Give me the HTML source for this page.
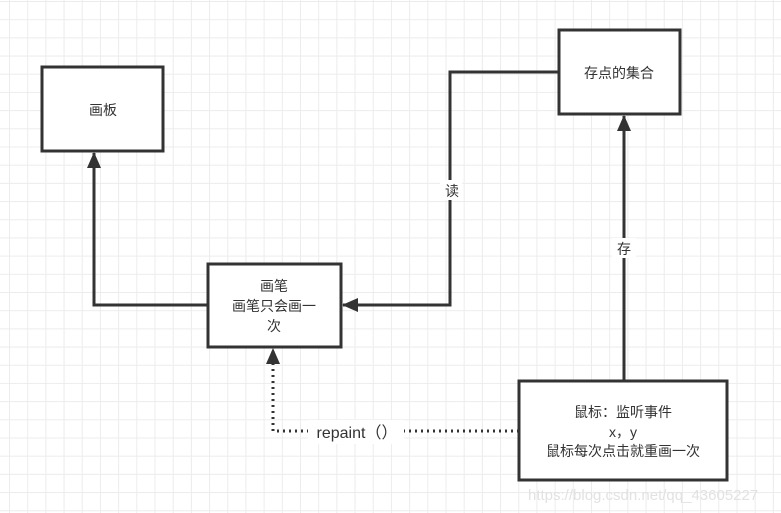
<!DOCTYPE html>
<html><head><meta charset="utf-8"><style>
body{margin:0;width:781px;height:513px;overflow:hidden;background:#fff;
background-image:linear-gradient(#ececec 1px,transparent 1px),linear-gradient(90deg,#ececec 1px,transparent 1px);
background-size:18.2px 18.2px;background-position:9px 1px;font-family:"Liberation Sans","Noto Sans CJK SC",sans-serif;}
</style></head><body>
<svg width="781" height="513" style="position:absolute;left:0;top:0" font-family="Liberation Sans, Noto Sans CJK SC, sans-serif" font-size="14" fill="#333">
<defs><marker id="b" markerWidth="16" markerHeight="14" refX="15" refY="7" orient="auto" markerUnits="userSpaceOnUse"><path d="M0,0 L16,7 L0,14 Z" fill="#333"/></marker></defs>
<g stroke="#333" stroke-width="3" fill="#fff">
<rect x="42" y="67" width="121" height="84"/>
<rect x="208" y="264" width="133" height="83"/>
<rect x="559" y="30" width="121" height="84"/>
<rect x="519" y="381" width="208" height="99"/>
</g>
<g stroke="#333" stroke-width="3" fill="none">
<path d="M208,305 H94 V153" marker-end="url(#b)"/>
<path d="M559,72 H450 V305 H343" marker-end="url(#b)"/>
<path d="M624,381 V116" marker-end="url(#b)"/>
<path d="M519,431 H273 V349" stroke-dasharray="2,4" marker-end="url(#b)"/>
</g>
<rect x="440" y="180" width="22" height="20" fill="#fff"/>
<rect x="612" y="238" width="24" height="20" fill="#fff"/>
<rect x="308" y="420" width="96" height="24" fill="#fff"/>
<g text-anchor="middle">
<text x="103" y="115">画板</text>
<text x="619" y="78">存点的集合</text>
<text x="274" y="291">画笔</text>
<text x="274" y="311">画笔只会画一</text>
<text x="274" y="331">次</text>
<text x="452" y="196">读</text>
<text x="624" y="254">存</text>
<text x="357" y="438" font-size="16">repaint（）</text>
<text x="623" y="417">鼠标：监听事件</text>
<text x="623" y="437">x，y</text>
<text x="623" y="456">鼠标每次点击就重画一次</text>
</g>
<text x="528" y="500" font-size="15" fill="#e2e2e2">https://blog.csdn.net/qq_43605227</text>
</svg>
</body></html>
